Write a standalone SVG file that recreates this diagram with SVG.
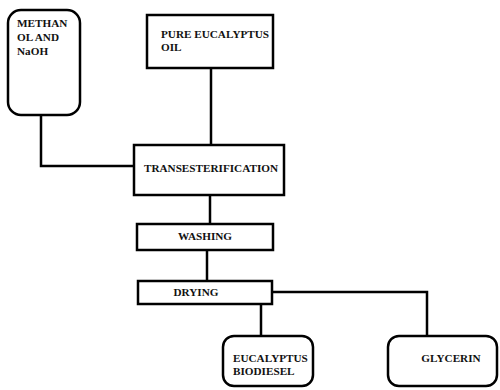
<svg xmlns="http://www.w3.org/2000/svg" width="500" height="390" viewBox="0 0 500 390">
<style>
.box{fill:#fff;stroke:#000;stroke-width:2.5}
.ln{fill:none;stroke:#000;stroke-width:2.5}
text{font-family:"Liberation Serif","Times New Roman",serif;font-weight:bold;font-size:11.2px;fill:#111}
</style>
<rect width="500" height="390" fill="#fff"/>
<g id="connectors">
<path class="ln" d="M41,115 V166 H134"/>
<path class="ln" d="M211,68 V146"/>
<path class="ln" d="M210,195 V224"/>
<path class="ln" d="M207,250 V281"/>
<path class="ln" d="M261,304 V336"/>
<path class="ln" d="M272,292 H427 V336"/>
</g>
<g id="methanol">
<rect class="box" x="8" y="10" width="72" height="105" rx="13"/>
<text x="17" y="27">METHAN</text>
<text x="17" y="41">OL AND</text>
<text x="17" y="55">NaOH</text>
</g>
<g id="oil">
<rect class="box" x="147" y="15" width="126" height="53"/>
<text x="161" y="38">PURE EUCALYPTUS</text>
<text x="161" y="51">OIL</text>
</g>
<g id="trans">
<rect class="box" x="134" y="145" width="150" height="50"/>
<text x="211" y="172" text-anchor="middle">TRANSESTERIFICATION</text>
</g>
<g id="washing">
<rect class="box" x="137" y="224" width="136" height="26"/>
<text x="205" y="240" text-anchor="middle">WASHING</text>
</g>
<g id="drying">
<rect class="box" x="138" y="281" width="134" height="23"/>
<text x="196" y="296" text-anchor="middle">DRYING</text>
</g>
<g id="biodiesel">
<rect class="box" x="223" y="336" width="90" height="50" rx="11"/>
<text x="233" y="362">EUCALYPTUS</text>
<text x="233" y="375">BIODIESEL</text>
</g>
<g id="glycerin">
<rect class="box" x="388" y="336" width="109" height="50" rx="11"/>
<text x="451" y="362" text-anchor="middle">GLYCERIN</text>
</g>
</svg>
